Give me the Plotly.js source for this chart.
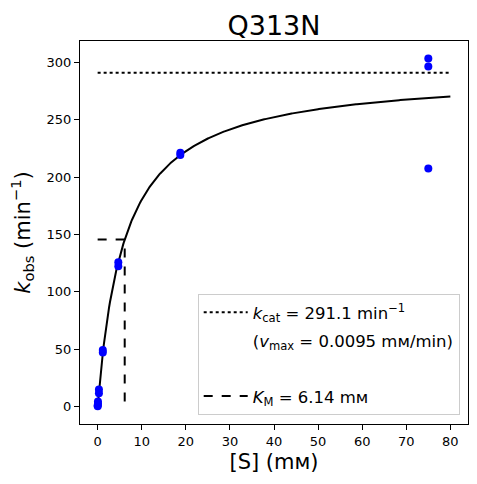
<!DOCTYPE html>
<html>
<head>
<meta charset="utf-8">
<script src="https://cdn.plot.ly/plotly-3.0.1.min.js"></script>
<style>html,body{margin:0;padding:0;background:#fff;}#plot{width:477px;height:484px;}</style>
</head>
<body>
<div id="plot"></div>
<script>
// Substrate concentrations (mM) and observed rates (min^-1)
const substrate = [0.0183, 0.0183, 0.0732, 0.0732, 0.293, 0.293, 1.17, 1.17, 4.69, 4.69, 18.75, 18.75, 75, 75, 75];
const kobs      = [0.3, 1.2, 2.5, 4.5, 11.5, 14.8, 47.2, 49.3, 122.3, 125.8, 219.3, 221.3, 303.5, 296.5, 207.5];

// Fitted Michaelis-Menten parameters
const kcat = 291.1;
const KM = 6.14;
const vmax = 0.0095;
const fitRange = [0, 80];

const fitX = [];
const fitY = [];
for (let i = 0; i <= 400; i++) {
  const s = fitRange[0] + (fitRange[1] - fitRange[0]) * i / 400;
  fitX.push(s);
  fitY.push(kcat * s / (KM + s));
}

const FONT = 'DejaVu Sans, sans-serif';

const traces = [
  {x: fitX, y: fitY, mode: 'lines', line: {color: '#000', width: 2}, showlegend: false, hoverinfo: 'skip'},
  {x: fitRange, y: [kcat, kcat], mode: 'lines', line: {color: '#000', width: 2, dash: 'dot'},
   name: '<i>k</i><sub>cat</sub> = ' + kcat.toFixed(1) + ' min<sup>−1</sup>', legendgroup: 'a', legendrank: 1},
  {x: [null], y: [null], mode: 'lines', line: {color: 'rgba(0,0,0,0)', width: 0},
   name: '(<i>v</i><sub>max</sub> = ' + vmax + ' mᴍ/min)', legendgroup: 'b', legendrank: 2},
  {x: [null], y: [null], mode: 'lines', line: {color: 'rgba(0,0,0,0)', width: 0},
   name: ' ', legendgroup: 'c', legendrank: 3},
  {x: [0, KM, KM], y: [kcat / 2, kcat / 2, 0], mode: 'lines', line: {color: '#000', width: 2, dash: 'dash'},
   name: '<i>K</i><sub>M</sub> = ' + KM.toFixed(2) + ' mᴍ', legendgroup: 'd', legendrank: 4},
  {x: substrate, y: kobs, mode: 'markers', marker: {color: '#0000ff', size: 8}, showlegend: false}
];

const layout = {
  width: 477, height: 484,
  margin: {l: 80, r: 9, t: 41, b: 60},
  paper_bgcolor: '#fff', plot_bgcolor: '#fff',
  font: {family: FONT, color: '#000', size: 13},
  title: {text: 'Q313N', font: {size: 27, family: FONT}, xref: 'paper', x: 0.5, xanchor: 'center', y: 0.948, yanchor: 'middle'},
  xaxis: {
    range: [-4, 84], tickvals: [0, 10, 20, 30, 40, 50, 60, 70, 80],
    showline: true, mirror: true, linecolor: '#000', linewidth: 1,
    ticks: 'outside', ticklen: 5, tickcolor: '#000', showgrid: false, zeroline: false,
    tickfont: {size: 13},
    title: {text: '[S] (mᴍ)', font: {size: 21}, standoff: 6}
  },
  yaxis: {
    range: [-15.2, 318.7], tickvals: [0, 50, 100, 150, 200, 250, 300],
    showline: true, mirror: true, linecolor: '#000', linewidth: 1,
    ticks: 'outside', ticklen: 5, tickcolor: '#000', showgrid: false, zeroline: false,
    tickfont: {size: 13},
    title: {text: '<i>k</i><sub>obs</sub> (min<sup>−1</sup>)', font: {size: 21}, standoff: 10}
  },
  legend: {
    x: 0.9786, xanchor: 'right', y: 0.0235, yanchor: 'bottom',
    bgcolor: '#fff', bordercolor: '#cccccc', borderwidth: 1,
    font: {size: 16.5, family: FONT}, tracegroupgap: 3.5, traceorder: 'grouped',
    itemwidth: 44
  },
  showlegend: true
};

Plotly.newPlot('plot', traces, layout, {staticPlot: true, displayModeBar: false});
</script>
</body>
</html>
